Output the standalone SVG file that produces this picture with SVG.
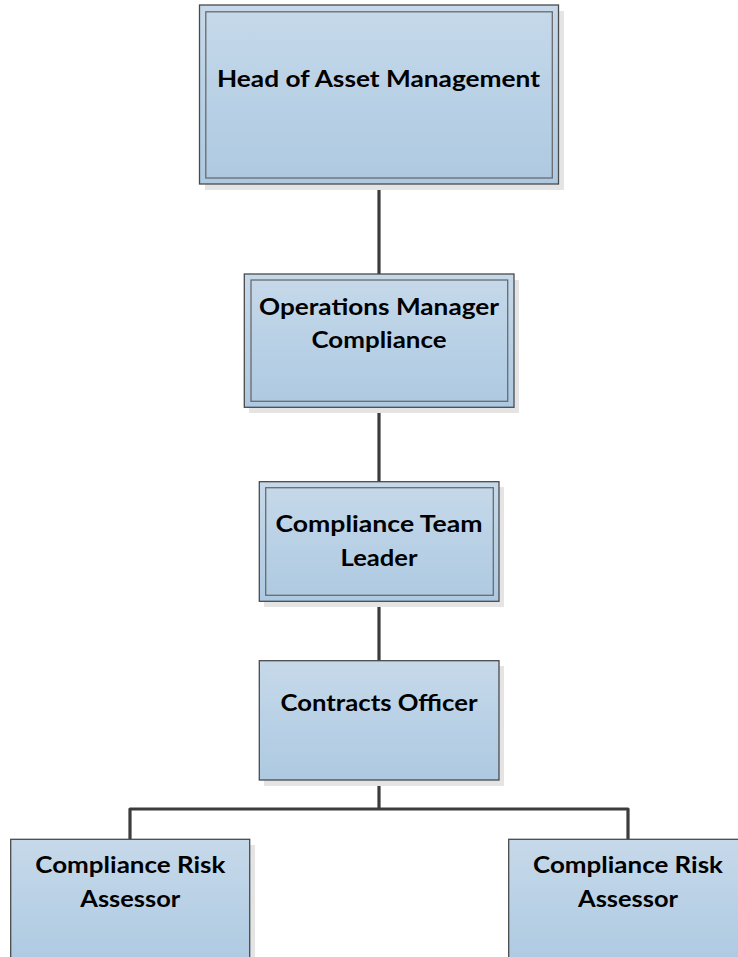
<svg xmlns="http://www.w3.org/2000/svg" width="738" height="957" viewBox="0 0 738 957">
<defs>
<linearGradient id="fillGrad" x1="0" y1="0" x2="0" y2="1">
<stop offset="0" stop-color="#c6d9ea"/>
<stop offset="1" stop-color="#adc9e1"/>
</linearGradient>
<style>
.shadow{fill:#e4e4e4;}
.box{fill:url(#fillGrad);stroke:#4a4a4a;stroke-width:1.3;}
.inner{fill:none;stroke:#6a6a6a;stroke-width:1.3;}
.lbl{font-family:Lato,"Open Sans","Liberation Sans",sans-serif;font-weight:700;font-size:23px;fill:#000;text-anchor:middle;}
.conn{fill:none;stroke:#3c3c3c;stroke-width:3.2;stroke-linejoin:round;}
</style>
</defs>
<rect width="738" height="957" fill="#ffffff"/>
<g id="connectors">
<line class="conn" x1="379" y1="184" x2="379" y2="274"/>
<line class="conn" x1="379" y1="407" x2="379" y2="482"/>
<line class="conn" x1="379" y1="601" x2="379" y2="661"/>
<polyline class="conn" points="379,780 379,809"/>
<polyline class="conn" points="130,839 130,809 628,809 628,839"/>
</g>
<g id="head">
<rect class="shadow" x="205" y="11" width="359" height="179"/>
<rect class="box" x="199.5" y="5" width="359" height="179"/>
<rect class="inner" x="205.8" y="11.8" width="346.5" height="166.2"/>
<text class="lbl" x="378.5" y="87" textLength="323" lengthAdjust="spacingAndGlyphs">Head of Asset Management</text>
</g>
<g id="ops">
<rect class="shadow" x="249" y="280" width="270" height="133"/>
<rect class="box" x="244.3" y="274" width="269.7" height="133.3"/>
<rect class="inner" x="251" y="280" width="256.7" height="121.3"/>
<text class="lbl" x="379" y="315" textLength="240" lengthAdjust="spacingAndGlyphs">Operations Manager</text>
<text class="lbl" x="379" y="348" textLength="135" lengthAdjust="spacingAndGlyphs">Compliance</text>
</g>
<g id="teamleader">
<rect class="shadow" x="264" y="487" width="240" height="120"/>
<rect class="box" x="259.3" y="481.7" width="239.7" height="119.6"/>
<rect class="inner" x="265.7" y="487.7" width="227.6" height="107.6"/>
<text class="lbl" x="379" y="531.7" textLength="207" lengthAdjust="spacingAndGlyphs">Compliance Team</text>
<text class="lbl" x="379" y="566" textLength="77" lengthAdjust="spacingAndGlyphs">Leader</text>
</g>
<g id="contracts">
<rect class="shadow" x="264" y="666" width="240" height="120"/>
<rect class="box" x="259.3" y="660.7" width="239.7" height="119.3"/>
<text class="lbl" x="379" y="711" textLength="197" lengthAdjust="spacingAndGlyphs">Contracts Officer</text>
</g>
<g id="assessor1">
<rect class="shadow" x="15" y="845" width="240" height="130"/>
<rect class="box" x="10.7" y="839.3" width="239" height="130"/>
<text class="lbl" x="130.3" y="873.3" textLength="190" lengthAdjust="spacingAndGlyphs">Compliance Risk</text>
<text class="lbl" x="130.3" y="907.3" textLength="100" lengthAdjust="spacingAndGlyphs">Assessor</text>
</g>
<g id="assessor2">
<rect class="shadow" x="513" y="845" width="240" height="130"/>
<rect class="box" x="508.7" y="839.3" width="239" height="130"/>
<text class="lbl" x="628" y="873.3" textLength="190" lengthAdjust="spacingAndGlyphs">Compliance Risk</text>
<text class="lbl" x="628" y="907.3" textLength="100" lengthAdjust="spacingAndGlyphs">Assessor</text>
</g>
</svg>
